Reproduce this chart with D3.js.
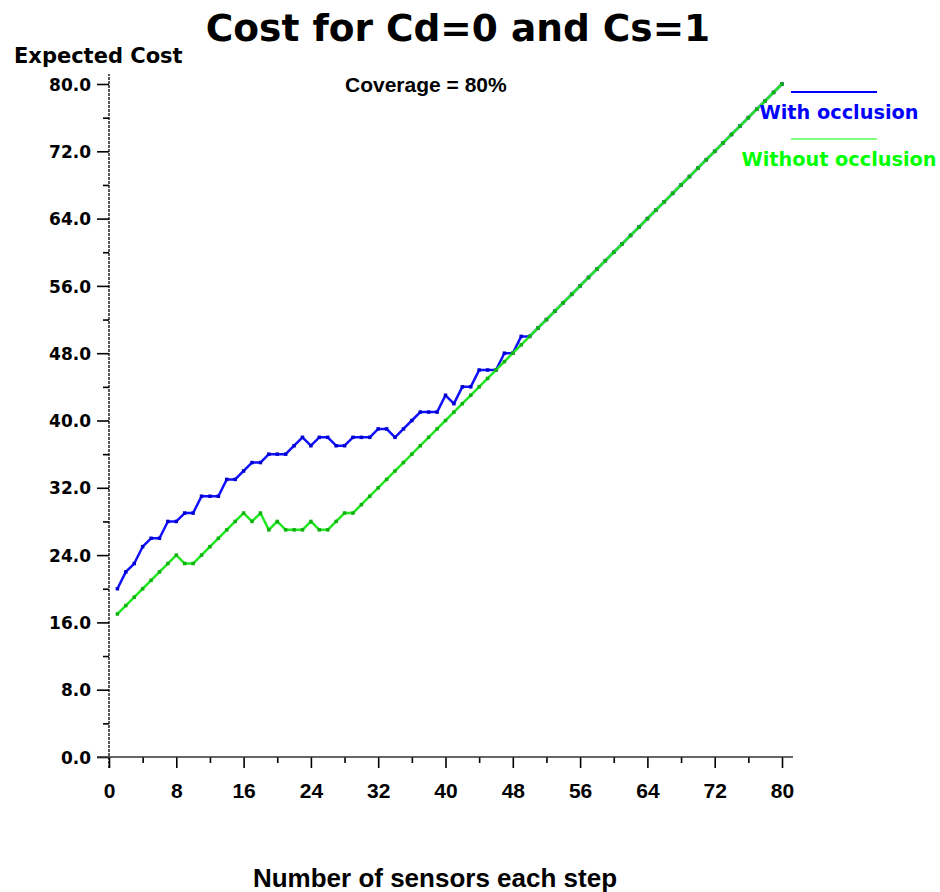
<!DOCTYPE html>
<html>
<head>
<meta charset="utf-8">
<script src="https://cdn.jsdelivr.net/npm/d3@7"></script>
<style>
  html, body { margin: 0; padding: 0; background: #ffffff; }
</style>
</head>
<body>
<div id="chart"></div>
<script>
const sensors = [
  1, 2, 3, 4, 5, 6, 7, 8, 9, 10, 11, 12, 13, 14, 15, 16, 17, 18, 19, 20,
  21, 22, 23, 24, 25, 26, 27, 28, 29, 30, 31, 32, 33, 34, 35, 36, 37, 38, 39, 40,
  41, 42, 43, 44, 45, 46, 47, 48, 49, 50, 51, 52, 53, 54, 55, 56, 57, 58, 59, 60,
  61, 62, 63, 64, 65, 66, 67, 68, 69, 70, 71, 72, 73, 74, 75, 76, 77, 78, 79, 80
]

const withOcclusion = [
  20, 22, 23, 25, 26, 26, 28, 28, 29, 29, 31, 31, 31, 33, 33, 34, 35, 35, 36, 36,
  36, 37, 38, 37, 38, 38, 37, 37, 38, 38, 38, 39, 39, 38, 39, 40, 41, 41, 41, 43,
  42, 44, 44, 46, 46, 46, 48, 48, 50, 50, 51, 52, 53, 54, 55, 56, 57, 58, 59, 60,
  61, 62, 63, 64, 65, 66, 67, 68, 69, 70, 71, 72, 73, 74, 75, 76, 77, 78, 79, 80
]

const withoutOcclusion = [
  17, 18, 19, 20, 21, 22, 23, 24, 23, 23, 24, 25, 26, 27, 28, 29, 28, 29, 27, 28,
  27, 27, 27, 28, 27, 27, 28, 29, 29, 30, 31, 32, 33, 34, 35, 36, 37, 38, 39, 40,
  41, 42, 43, 44, 45, 46, 47, 48, 49, 50, 51, 52, 53, 54, 55, 56, 57, 58, 59, 60,
  61, 62, 63, 64, 65, 66, 67, 68, 69, 70, 71, 72, 73, 74, 75, 76, 77, 78, 79, 80
]

const xTicks = [0, 8, 16, 24, 32, 40, 48, 56, 64, 72, 80]
const xMinorTicks = [4, 12, 20, 28, 36, 44, 52, 60, 68, 76]
const yTicks = [0, 8, 16, 24, 32, 40, 48, 56, 64, 72, 80]
const yMinorTicks = [4, 12, 20, 28, 36, 44, 52, 60, 68, 76]

const seriesNames = ['With occlusion', 'Without occlusion']

const W = 940
const H = 892
const BLUE = '#1010ff'
const GREEN = '#22e622'

const x = d3.scaleLinear().domain([0, 80]).range([109, 782])
const y = d3.scaleLinear().domain([0, 80]).range([757, 84])

const svg = d3.select('#chart').append('svg').attr('width', W).attr('height', H)

svg.append('rect').attr('width', W).attr('height', H).attr('fill', '#ffffff')

// title
svg
  .append('text')
  .attr('x', 458)
  .attr('y', 41)
  .attr('text-anchor', 'middle')
  .attr('font-family', 'DejaVu Sans')
  .attr('font-weight', 'bold')
  .attr('font-size', 37.5)
  .text('Cost for Cd=0 and Cs=1')

svg
  .append('text')
  .attr('x', 14)
  .attr('y', 63)
  .attr('font-family', 'DejaVu Sans')
  .attr('font-weight', 'bold')
  .attr('font-size', 21)
  .text('Expected Cost')

svg
  .append('text')
  .attr('x', 345)
  .attr('y', 92)
  .attr('font-family', 'Liberation Sans')
  .attr('font-weight', 'bold')
  .attr('font-size', 21)
  .text('Coverage = 80%')

svg
  .append('text')
  .attr('x', 435)
  .attr('y', 887)
  .attr('text-anchor', 'middle')
  .attr('font-family', 'Liberation Sans')
  .attr('font-weight', 'bold')
  .attr('font-size', 26)
  .text('Number of sensors each step')

// axes
const yAxis = svg.append('g').attr('transform', `translate(${x(0)},0)`)
yAxis.call(d3.axisLeft(y).tickValues(yTicks).tickSize(12).tickFormat(d3.format('.1f')))
yAxis.append('g').call(d3.axisLeft(y).tickValues(yMinorTicks).tickSize(6).tickFormat(''))
yAxis.selectAll('.domain').remove()
yAxis.selectAll('line').attr('stroke', '#000').attr('stroke-width', 1.6)
yAxis
  .selectAll('text')
  .attr('x', -18)
  .attr('dy', '0.36em')
  .attr('fill', '#000')
  .attr('font-family', 'DejaVu Sans')
  .attr('font-weight', 'bold')
  .attr('font-size', 17)

svg
  .append('line')
  .attr('x1', x(0))
  .attr('x2', x(0))
  .attr('y1', y(0) + 11)
  .attr('y2', 74)
  .attr('stroke', '#000')
  .attr('stroke-width', 1.3)
  .attr('stroke-dasharray', '3,1')

const xAxis = svg.append('g').attr('transform', `translate(0,${y(0)})`)
xAxis.call(d3.axisBottom(x).tickValues(xTicks).tickSize(11).tickFormat(d3.format('d')))
xAxis.append('g').call(d3.axisBottom(x).tickValues(xMinorTicks).tickSize(6).tickFormat(''))
xAxis.selectAll('.domain').remove()
xAxis.selectAll('line').attr('stroke', '#000').attr('stroke-width', 1.6)
xAxis
  .selectAll('text')
  .attr('y', 41)
  .attr('dy', 0)
  .attr('fill', '#000')
  .attr('font-family', 'Liberation Sans')
  .attr('font-weight', 'bold')
  .attr('font-size', 21)

svg
  .append('line')
  .attr('x1', 97)
  .attr('x2', 793)
  .attr('y1', y(0))
  .attr('y2', y(0))
  .attr('stroke', '#333')
  .attr('stroke-width', 1.3)

// series
const drawSeries = (values, color, markColor) => {
  const pts = sensors.map((s, i) => [s, values[i]])
  const line = d3
    .line()
    .x((d) => x(d[0]))
    .y((d) => y(d[1]))

  svg
    .append('path')
    .datum(pts)
    .attr('d', line)
    .attr('fill', 'none')
    .attr('stroke', color)
    .attr('stroke-width', 2.5)
    .attr('stroke-linejoin', 'round')

  svg
    .append('g')
    .selectAll('rect')
    .data(pts)
    .join('rect')
    .attr('x', (d) => x(d[0]) - 1.75)
    .attr('y', (d) => y(d[1]) - 1.75)
    .attr('width', 3.5)
    .attr('height', 3.5)
    .attr('fill', markColor)
}

drawSeries(withOcclusion, BLUE, '#0000d0')
drawSeries(withoutOcclusion, GREEN, '#10b010')

// legend
const legend = [
  { name: seriesNames[0], color: '#0000ff', lineY: 92, textY: 119, width: 2.2 },
  { name: seriesNames[1], color: '#00ff00', lineY: 139, textY: 166, width: 1.2 },
]

legend.forEach((l) => {
  svg
    .append('line')
    .attr('x1', 791)
    .attr('x2', 877)
    .attr('y1', l.lineY)
    .attr('y2', l.lineY)
    .attr('stroke', l.color)
    .attr('stroke-width', l.width)

  svg
    .append('text')
    .attr('x', 839)
    .attr('y', l.textY)
    .attr('text-anchor', 'middle')
    .attr('fill', l.color)
    .attr('font-family', 'DejaVu Sans')
    .attr('font-weight', 'bold')
    .attr('font-size', 19.3)
    .text(l.name)
})
</script>
</body>
</html>
